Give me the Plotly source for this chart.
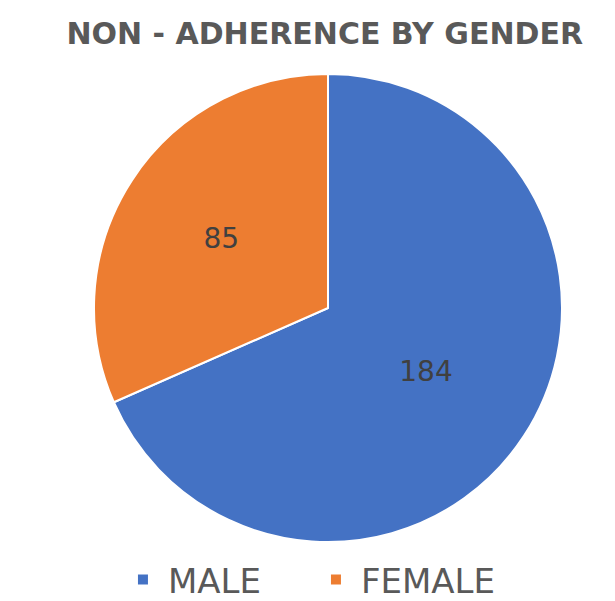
import plotly.graph_objects as go

categories = ["MALE", "FEMALE"]
values = [184, 85]
colors = ["#4472C4", "#ED7D31"]

fig = go.Figure(go.Pie(
    labels=categories,
    values=values,
    sort=False,
    direction="clockwise",
    rotation=0,
    marker=dict(colors=colors, line=dict(color="white", width=2)),
    textinfo="value",
    textposition="inside",
    insidetextorientation="horizontal",
    textfont=dict(family="DejaVu Sans", size=28, color="#404040"),
    hoverinfo="label+value",
))

fig.update_layout(
    width=615, height=601,
    margin=dict(l=25, r=0, t=66, b=65),
    paper_bgcolor="white",
    plot_bgcolor="white",
    title=dict(
        text="<b>NON - ADHERENCE BY GENDER</b>",
        x=0.515, xanchor="center", y=0.957, yanchor="middle",
        font=dict(family="DejaVu Sans", size=30, color="#595959"),
    ),
    legend=dict(
        orientation="h", x=0.144, xanchor="left", y=-0.02, yanchor="top",
        font=dict(family="DejaVu Sans", size=34, color="#595959"),
        itemwidth=40,
        entrywidth=138, entrywidthmode="pixels",
    ),
)

fig.write_html("out.html")
